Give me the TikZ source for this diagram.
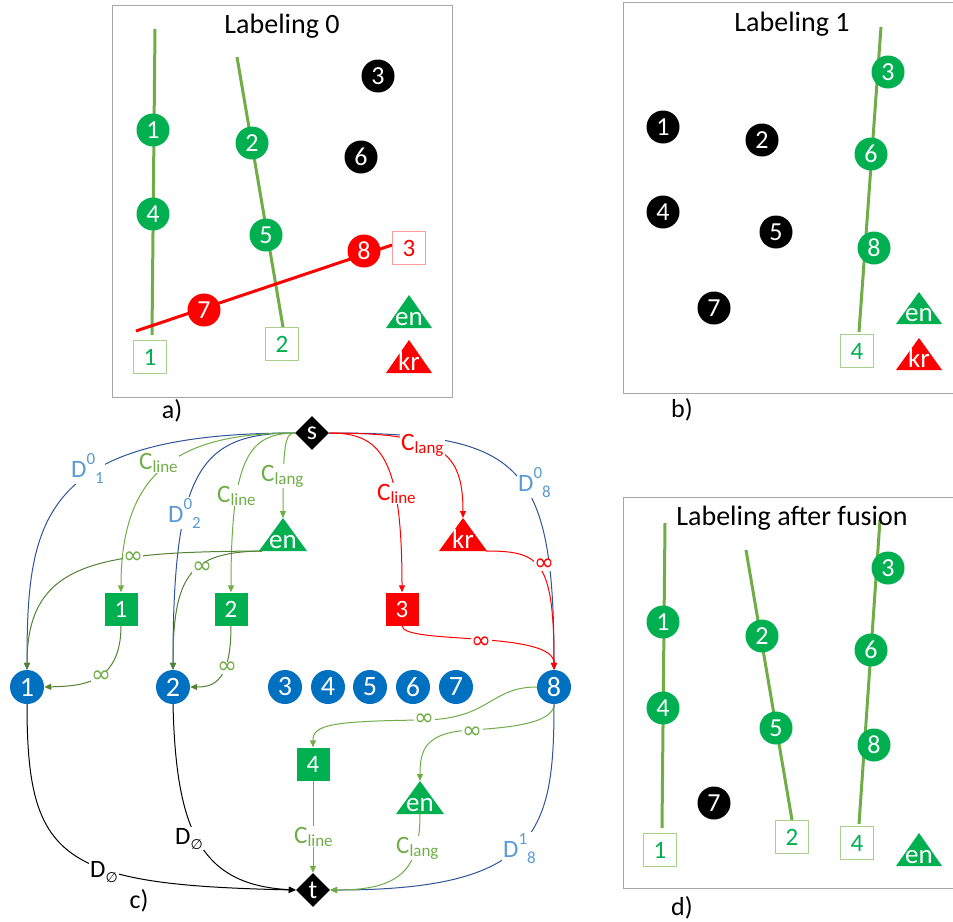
\documentclass[tikz,border=0pt]{standalone}
\usepackage{fontspec}
\setmainfont{Carlito}
\newfontfamily\symfnt{DejaVu Sans}
\usetikzlibrary{shapes.geometric,arrows.meta,calc}
\newcommand{\myfs}[1]{\fontsize{#1}{#1}\selectfont}
\definecolor{gn}{HTML}{00B050}
\definecolor{bl}{HTML}{0070C0}
\definecolor{rd}{HTML}{FF0000}
\definecolor{ln}{HTML}{70AD47}
\definecolor{dg}{HTML}{548235}
\definecolor{lb}{HTML}{5B9BD5}
\definecolor{nb}{HTML}{2F5597}
\definecolor{fr}{HTML}{A6A6A6}
\definecolor{lgb}{HTML}{A9D18E}
\definecolor{lrb}{HTML}{FF9B9B}
\newcommand{\Cl}[1]{C\raisebox{-3pt}{\myfs{17}#1}}
\newcommand{\Dl}[2]{D\raisebox{13pt}{\myfs{17}#1}\raisebox{-6pt}{\myfs{17}#2}}
\newcommand{\Dn}{D\raisebox{-5pt}{\symfnt\myfs{14}∅}}
\tikzset{
 dot/.style={circle, inner sep=0pt, minimum size=33pt, text=white, font=\myfs{26}},
 gdot/.style={dot, fill=gn},
 kdot/.style={dot, fill=black},
 rdot/.style={dot, fill=rd},
 bdot/.style={dot, fill=bl, minimum size=34pt, font=\myfs{28}},
 gbox/.style={rectangle, draw=lgb, line width=1pt, fill=white, text=gn, minimum size=33pt, inner sep=0pt, font=\myfs{25}},
 rbox/.style={gbox, draw=lrb, text=rd},
 fbox/.style={rectangle, fill=gn, text=white, minimum size=33pt, inner sep=0pt, font=\myfs{25}},
 frbox/.style={fbox, fill=rd},
 frame/.style={draw=fr, line width=1pt},
 gline/.style={draw=ln, line width=3pt},
 rline/.style={draw=rd, line width=3pt},
 title/.style={font=\myfs{28}, text=black, anchor=base},
 captext/.style={font=\myfs{26}, text=black, anchor=base},
 tritext/.style={text=white, font=\myfs{27}, inner sep=0pt, anchor=base},
 dmd/.style={diamond, fill=black, text=white, inner sep=0pt, minimum size=34pt, font=\myfs{26}},
 e/.style={line width=1pt, -{Triangle[length=7pt,width=6pt]}},
 lab/.style={fill=white, inner sep=1pt, anchor=base west, font=\myfs{25}},
 inf/.style={fill=white, inner sep=0.5pt, font=\symfnt\myfs{24}},
}
\begin{document}
\begin{tikzpicture}[x=1pt,y=-1pt]
\useasboundingbox (0,0) rectangle (953,921);
\fill[white] (0,0) rectangle (953,921);

% ---------- panel a
\draw[frame] (112,5) rectangle (452,397);
\node[title] at (282,33) {Labeling 0};
\draw[gline] (155,29) -- (152,335);
\draw[gline] (237,57) -- (283,327);
\draw[rline] (136,331) -- (392,245);
\node[gdot] (a1) at (153,130) {1};
\node[gdot] (a4) at (153,214) {4};
\node[gdot] (a2) at (252,143) {2};
\node[gdot] (a5) at (266,235) {5};
\node[rdot] (a7) at (204,310) {7};
\node[rdot] (a8) at (364,251) {8};
\node[kdot] (a3) at (378,76) {3};
\node[kdot] (a6) at (361,157) {6};
\node[gbox] (aL1) at (150,357) {1};
\node[gbox] (aL2) at (282,344) {2};
\node[rbox] (aL3) at (409,248) {3};
\fill[gn] (386,328) -- (409,295) -- (432,328) -- cycle;
\node[tritext] (aen) at (409,325) {en};
\fill[rd] (386,373) -- (409,340) -- (432,373) -- cycle;
\node[tritext] (akr) at (409,370) {kr};
\node[captext] (capa) at (172,418) {a)};

% ---------- panel b
\draw[frame] (960,2) -- (623,2) -- (623,393) -- (960,393);
\node[title] at (792,31) {Labeling 1};
\draw[gline] (881,27) -- (859,332);
\node[kdot] (b1) at (663,127) {1};
\node[kdot] (b2) at (762,140) {2};
\node[kdot] (b4) at (663,212) {4};
\node[kdot] (b5) at (776,232) {5};
\node[kdot] (b7) at (714,308) {7};
\node[gdot] (b3) at (888,72) {3};
\node[gdot] (b6) at (871,154) {6};
\node[gdot] (b8) at (874,248) {8};
\node[gbox] (bL4) at (857,351) {4};
\fill[gn] (896,324) -- (919,292) -- (942,324) -- cycle;
\node[tritext] (ben) at (919,321) {en};
\fill[rd] (896,370) -- (919,338) -- (942,370) -- cycle;
\node[tritext] (bkr) at (919,367) {kr};
\node[captext] (capb) at (682,417) {b)};

% ---------- panel d
\draw[frame] (960,497) -- (623,497) -- (623,888) -- (960,888);
\draw[gline] (665,523) -- (662,828);
\draw[gline] (746,550) -- (792,820);
\draw[gline] (880,520) -- (859,824);
\node[title] at (792,525) {Labeling after fusion};
\node[gdot] (d1) at (663,622) {1};
\node[gdot] (d4) at (663,708) {4};
\node[gdot] (d2) at (762,636) {2};
\node[gdot] (d5) at (776,728) {5};
\node[gdot] (d3) at (888,568) {3};
\node[gdot] (d6) at (871,650) {6};
\node[gdot] (d8) at (874,745) {8};
\node[kdot] (d7) at (714,803) {7};
\node[gbox] (dL1) at (660,850) {1};
\node[gbox] (dL2) at (792,837) {2};
\node[gbox] (dL4) at (857,843) {4};
\fill[gn] (896,866) -- (919,833) -- (942,866) -- cycle;
\node[tritext] (den) at (919,863) {en};
\node[captext] (capd) at (682,915) {d)};

% ---------- panel c : nodes
\node[dmd] (s) at (312,433) {s};
\node[dmd] (t) at (313,890) {t};
\node[bdot] (n1) at (27,687) {1};
\node[bdot] (n2) at (173,687) {2};
\node[bdot] (n3) at (285,687) {3};
\node[bdot] (n4) at (328,687) {4};
\node[bdot] (n5) at (370,687) {5};
\node[bdot] (n6) at (413,687) {6};
\node[bdot] (n7) at (456,687) {7};
\node[bdot] (n8) at (554,687) {8};
\node[fbox] (sq1) at (121,609) {1};
\node[fbox] (sq2) at (231,609) {2};
\node[frbox] (sq3) at (402,609) {3};
\node[fbox] (sq4) at (313,764) {4};
\fill[gn] (259,551) -- (283,518) -- (307,551) -- cycle;
\node[tritext] (enU) at (283,548) {en};
\coordinate (enUa) at (283,518);
\coordinate (enUl) at (262,551);
\fill[rd] (439,551) -- (463,518) -- (487,551) -- cycle;
\node[tritext] (kr) at (463,548) {kr};
\coordinate (krA) at (463,518);
\coordinate (krR) at (486,551);
\fill[gn] (396,814) -- (420,781) -- (444,814) -- cycle;
\node[tritext] (enL) at (420,811) {en};
\coordinate (enLa) at (420,781);
\coordinate (enLb) at (420,814);
\coordinate (m84) at (424,720);
\coordinate (m8e) at (472,730);
\node[captext] (capc) at (139,908) {c)};

% ---------- panel c : connectors
\draw[e, nb] (s.west) .. controls (40,433) and (27,520) .. (n1.north);
\draw[e, nb] (s.west) .. controls (200,433) and (173,470) .. (n2.north);
\draw[e, nb] (s.east) .. controls (520,433) and (554,460) .. (n8.north);
\draw[e, nb] (n8.south) .. controls (554,830) and (540,890) .. (t.east);
\draw[e, ln] (s.west) .. controls (180,433) and (121,470) .. (sq1.north);
\draw[e, ln] (s.west) .. controls (250,434) and (231,455) .. (sq2.north);
\draw[e, ln] (s.west) .. controls (285,433) and (283,445) .. (enUa);
\draw[e, dg] (enUl) .. controls (100,552) and (27,560) .. (n1.north);
\draw[e, dg] (enUl) .. controls (190,552) and (173,575) .. (n2.north);
\draw[e, dg] (sq1.south) .. controls (121,685) and (80,686) .. (n1.east);
\draw[e, dg] (sq2.south) .. controls (231,680) and (215,687) .. (n2.east);
\draw[e, rd] (s.east) .. controls (440,433) and (463,450) .. (krA);
\draw[e, rd] (s.east) .. controls (380,433) and (402,455) .. (sq3.north);
\draw[e, rd] (krR) .. controls (540,551) and (554,560) .. (n8.north);
\draw[e, rd] (sq3.south) .. controls (402,645) and (554,630) .. (n8.north);
\draw[e, ln] (n8.west) .. controls (490,687) and (490,719) .. (m84) .. controls (330,721) and (313,725) .. (sq4.north);
\draw[e, ln] (n8.south) .. controls (554,725) and (500,728) .. (m8e) .. controls (425,732) and (420,750) .. (enLa);
\draw[e, ln] (sq4.south) -- (t.north);
\draw[e, ln] (enLb) .. controls (420,870) and (400,890) .. (t.east);
\draw[e, black] (n1.south) .. controls (27,860) and (60,885) .. (t.west);
\draw[e, black] (n2.south) .. controls (176,830) and (200,885) .. (t.west);

% ---------- panel c : labels
\node[lab, text=lb] (lD01) at (70,477) {\Dl{0}{1}};
\node[lab, text=ln] (lC1) at (138,469) {\Cl{line}};
\node[lab, text=lb] (lD02) at (167,522) {\Dl{0}{2}};
\node[lab, text=ln] (lC2) at (216,502) {\Cl{line}};
\node[lab, text=ln] (lCg) at (260,481) {\Cl{lang}};
\node[lab, text=rd] (lCr) at (400,450) {\Cl{lang}};
\node[lab, text=rd] (lCr2) at (376,500) {\Cl{line}};
\node[lab, text=lb] (lD08) at (517,491) {\Dl{0}{8}};
\node[lab, text=black] (lDn1) at (89,877) {\Dn};
\node[lab, text=black] (lDn2) at (174,844) {\Dn};
\node[lab, text=ln] (lC4) at (293,843) {\Cl{line}};
\node[lab, text=ln] (lCe) at (395,853) {\Cl{lang}};
\node[lab, text=lb] (lD18) at (502,857) {\Dl{1}{8}};
\node[inf, text=ln] (i1) at (133,558) {∞};
\node[inf, text=ln] (i2) at (202,568) {∞};
\node[inf, text=ln] (i3) at (101,677) {∞};
\node[inf, text=ln] (i4) at (227,668) {∞};
\node[inf, text=rd] (i5) at (544,565) {∞};
\node[inf, text=rd] (i6) at (481,643) {∞};
\node[inf, text=ln] (i7) at (424,720) {∞};
\node[inf, text=ln] (i8) at (472,733) {∞};
\end{tikzpicture}
\end{document}
